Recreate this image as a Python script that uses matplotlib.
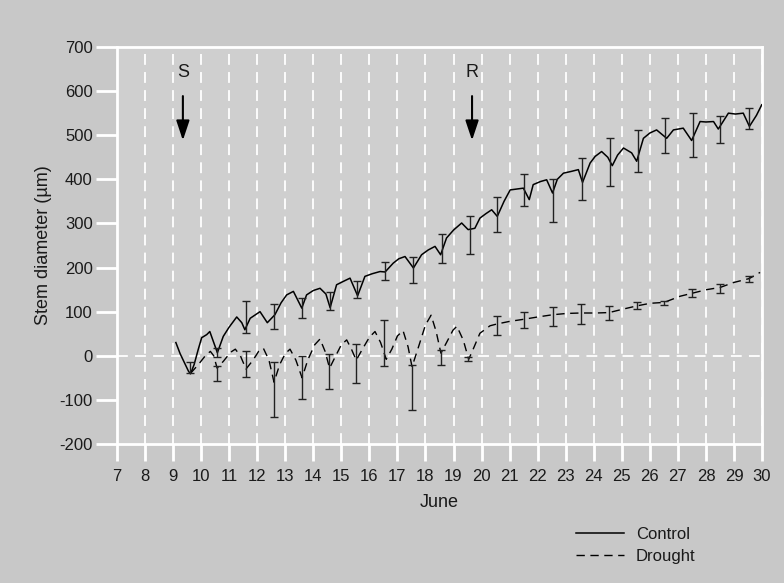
import matplotlib
matplotlib.use("Agg")
import matplotlib.pyplot as plt
import numpy as np

plt.rcParams['font.family'] = ['Liberation Sans', 'DejaVu Sans']
plt.rcParams['axes.unicode_minus'] = False

# control curve (day of June, um)
ctrl_day = [9.10, 9.25, 9.40, 9.55, 9.62, 9.75, 9.90, 10.02, 10.20, 10.31, 10.45, 10.58,
            10.79, 11.00, 11.27, 11.45, 11.56, 11.75, 12.10, 12.36, 12.63, 12.85, 13.05,
            13.29, 13.59, 13.76, 14.00, 14.24, 14.45, 14.60, 14.83, 15.05, 15.31, 15.58,
            15.84, 16.10, 16.38, 16.56, 16.85, 17.05, 17.27, 17.57, 17.86, 18.10, 18.34,
            18.54, 18.75, 19.00, 19.29, 19.52, 19.76, 19.94, 20.15, 20.36, 20.56, 20.80,
            21.02, 21.49, 21.70, 21.84, 22.10, 22.32, 22.53, 22.70, 22.92, 23.20, 23.45,
            23.60, 23.87, 24.05, 24.28, 24.50, 24.66, 24.85, 25.06, 25.35, 25.53, 25.77,
            26.00, 26.24, 26.60, 26.84, 27.19, 27.49, 27.79, 28.00, 28.27, 28.44, 28.80,
            29.05, 29.33, 29.55, 29.80, 29.99]
ctrl_val = [30, 5, -15, -35, -41, -20, 15, 41, 48, 55, 30, 7,
            44, 65, 88, 75, 59, 85, 100, 75, 93, 120, 138,
            146, 108, 138, 148, 153, 140, 109, 161, 168, 176, 136,
            180, 186, 191, 190, 210, 220, 225, 199, 229, 240, 248,
            229, 267, 285, 301, 286, 289, 312, 322, 331, 316, 350,
            376, 380, 354, 388, 395, 399, 369, 400, 414, 418, 422,
            393, 437, 452, 463, 450, 431, 455, 471, 460, 441, 493,
            505, 512, 493, 512, 516, 488, 531, 530, 531, 514, 550,
            548, 550, 520, 545, 569]

# drought curve
dr_day = [9.62, 9.90, 10.15, 10.33, 10.45, 10.57, 10.80, 11.05, 11.22, 11.40, 11.60,
          11.85, 12.05, 12.22, 12.42, 12.60, 12.80, 13.00, 13.17, 13.38, 13.60, 13.80,
          14.05, 14.24, 14.42, 14.58, 14.80, 15.00, 15.19, 15.36, 15.53, 15.75, 16.00,
          16.20, 16.40, 16.60, 16.80, 17.00, 17.20, 17.38, 17.52, 17.75, 18.00, 18.20,
          18.38, 18.55, 18.75, 18.98, 19.12, 19.35, 19.54, 19.70, 19.94, 20.30, 20.54,
          21.00, 21.53, 22.00, 22.53, 23.04, 23.54, 24.09, 24.55, 25.06, 25.53, 26.01,
          26.51, 27.08, 27.52, 28.03, 28.51, 28.98, 29.54, 29.93]
dr_val = [-40, -20, 0, 10, 0, -28, -12, 8, 15, 0, -30,
          -10, 10, 17, -10, -60, -20, 5, 15, -10, -50, -10,
          25, 38, 10, -28, 0, 25, 36, 15, -10, 15, 42,
          55, 30, -8, 15, 45, 57, 20, -25, 20, 70, 92,
          55, 6, 30, 58, 67, 35, -8, 15, 51, 68, 72,
          78, 83, 88, 93, 96, 97, 97, 98, 106, 113, 119,
          121, 135, 142, 150, 155, 166, 175, 189]

# error bars: day, low, high
ctrl_bar_day = [9.60, 10.55, 11.59, 12.60, 13.59, 14.60, 15.55, 16.56, 17.57, 18.58, 19.57,
                20.54, 21.53, 22.53, 23.57, 24.58, 25.56, 26.54, 27.53, 28.51, 29.55]
ctrl_bar_lo = [-39, -2, 51, 61, 86, 104, 131, 172, 166, 210, 231,
               281, 340, 303, 354, 385, 416, 459, 450, 482, 514]
ctrl_bar_hi = [-13, 17, 125, 118, 131, 145, 169, 212, 225, 277, 316,
               361, 413, 400, 448, 493, 512, 538, 550, 543, 562]

dr_bar_day = [10.55, 11.59, 12.60, 13.59, 14.57, 15.52, 16.52, 17.51, 18.54, 19.53,
              20.54, 21.53, 22.53, 23.53, 24.55, 25.53, 26.51, 27.52, 28.51, 29.54]
dr_bar_lo = [-58, -48, -138, -99, -76, -62, -23, -122, -21, -11,
             48, 63, 68, 72, 82, 106, 116, 133, 142, 168]
dr_bar_hi = [-24, 10, -15, 0, 5, 27, 80, -20, 13, -3,
             91, 99, 110, 117, 112, 123, 125, 151, 163, 181]

days = list(range(7, 31))
yticks = list(range(-200, 701, 100))

fig = plt.figure(figsize=(7.84, 5.83), dpi=100, facecolor='#c8c8c8')
ax = fig.add_axes([0.1492, 0.2384, 0.8228, 0.681])
ax.set_facecolor('#cfcfcf')

for d in days[1:]:
    ax.axvline(d, color='white', lw=1.3, ls=(0, (6, 4)), zorder=1)
ax.axhline(0, color='white', lw=1.3, ls=(0, (6, 4)), zorder=1)

ax.plot(ctrl_day, ctrl_val, color='black', lw=1.1, zorder=3, label='Control')
ax.plot(dr_day, dr_val, color='black', lw=1.0, ls=(0, (6, 4)), zorder=3, label='Drought')

for bd, lo, hi in [(ctrl_bar_day, ctrl_bar_lo, ctrl_bar_hi), (dr_bar_day, dr_bar_lo, dr_bar_hi)]:
    lo = np.array(lo)
    hi = np.array(hi)
    ax.errorbar(bd, (lo + hi) / 2, yerr=(hi - lo) / 2, fmt='none', ecolor='#222222',
                elinewidth=1.0, capsize=3, capthick=1.0, zorder=4)

ax.set_xlim(7, 30)
ax.set_ylim(-200, 700)
ax.set_xticks(days)
ax.set_yticks(yticks)
ax.tick_params(axis='x', colors='white', length=12, width=2, labelcolor='#1a1a1a',
               labelsize=12, pad=6)
ax.tick_params(axis='y', colors='white', length=15, width=2, labelcolor='#1a1a1a',
               labelsize=12, pad=2.5)
for s in ax.spines.values():
    s.set_color('white')
    s.set_linewidth(2)

ax.set_ylabel('Stem diameter (µm)', fontsize=13, color='#1a1a1a', labelpad=5)
ax.set_xlabel('June', fontsize=13, color='#1a1a1a', labelpad=7)

for xd, lab in [(9.35, 'S'), (19.66, 'R')]:
    ax.text(xd, 642, lab, ha='center', va='center', fontsize=13, color='#1a1a1a')
    ax.annotate('', xy=(xd, 482), xytext=(xd, 595),
                arrowprops=dict(arrowstyle='-|>,head_width=0.4,head_length=1.2',
                                color='black', lw=1.5))

leg = ax.legend(loc='upper left', bbox_to_anchor=(0.688, -0.17), frameon=False, fontsize=12,
                handlelength=2.9, labelspacing=0.45, handletextpad=0.7)
for t in leg.get_texts():
    t.set_color('#1a1a1a')

fig.savefig('out.png', dpi=100, facecolor=fig.get_facecolor())
